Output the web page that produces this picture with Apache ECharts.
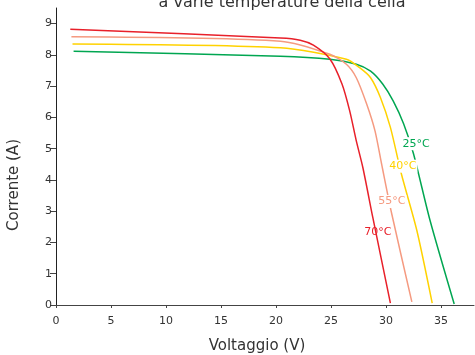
<!DOCTYPE html>
<html>
<head>
<meta charset="utf-8">
<script src="https://cdn.jsdelivr.net/npm/echarts@6/dist/echarts.min.js"></script>
<style>
  html, body { margin: 0; padding: 0; background: #fff; }
  #chart { width: 475px; height: 355px; }
</style>
</head>
<body>
<div id="chart"></div>
<script>
// tick labels
const xTicks = [0, 5, 10, 15, 20, 25, 30, 35]
const yTicks = [0, 1, 2, 3, 4, 5, 6, 7, 8, 9]

// curve I-V (tensione V, corrente A)
const v25 = [1.6, 20.4, 24.9, 27.3, 28.6, 29.7, 30.65, 31.6, 32.5, 34.0, 36.2]
const i25 = [8.12, 7.96, 7.86, 7.70, 7.48, 7.07, 6.53, 5.80, 4.84, 2.71, 0.03]

const v40 = [1.5, 20.4, 26.4, 27.6, 28.6, 29.5, 30.4, 31.4, 32.8, 34.2]
const i40 = [8.35, 8.23, 7.86, 7.59, 7.27, 6.63, 5.68, 4.19, 2.39, 0.06]

const v55 = [1.4, 20.4, 24.9, 26.4, 27.3, 28.25, 29.0, 29.6, 30.5, 32.35]
const i55 = [8.58, 8.44, 8.02, 7.70, 7.27, 6.42, 5.57, 4.51, 2.95, 0.1]

const v70 = [1.3, 20.4, 22.2, 23.4, 24.9, 26.0, 26.7, 27.3, 27.9, 28.8, 30.4]
const i70 = [8.82, 8.54, 8.47, 8.31, 7.87, 7.07, 6.21, 5.25, 4.39, 2.80, 0.06]

// posizione delle etichette di temperatura (V, A)
const tempLabels = ['25°C', '40°C', '55°C', '70°C']
const labelPos = [[32.74, 5.16], [31.53, 4.44], [30.53, 3.31], [29.25, 2.33]]

const colors = ['#00a651', '#ffd200', '#f59a80', '#e8202a']

const zip = (xs, ys) => xs.map((x, k) => [x, ys[k]])
const curves = [zip(v25, i25), zip(v40, i40), zip(v55, i55), zip(v70, i70)]

const font = 'DejaVu Sans, Verdana, sans-serif'

const chart = echarts.init(document.getElementById('chart'))

chart.setOption({
  animation: false,
  title: {
    text: 'a varie temperature della cella',
    left: 277,
    textAlign: 'center',
    top: -10,
    textStyle: { fontFamily: font, fontSize: 16, fontWeight: 'normal', color: '#333' }
  },
  grid: { left: 56, right: 1, top: 8, bottom: 50, outerBoundsMode: 'none', containLabel: false },
  xAxis: {
    type: 'value',
    min: 0,
    max: 38,
    interval: 5,
    name: 'Voltaggio (V)',
    nameLocation: 'middle',
    nameGap: 34,
    nameTextStyle: { fontFamily: font, fontSize: 15, color: '#333', padding: [0, 16, 0, 0] },
    axisLine: { lineStyle: { color: '#444', width: 1 } },
    axisTick: { show: true, length: 3, customValues: xTicks, lineStyle: { color: '#444' } },
    axisLabel: { customValues: xTicks, margin: 11, fontFamily: font, fontSize: 11, color: '#333' },
    splitLine: { show: false }
  },
  yAxis: {
    type: 'value',
    min: 0,
    max: 9.5,
    interval: 1,
    name: 'Corrente (A)',
    nameLocation: 'middle',
    nameGap: 34,
    nameTextStyle: { fontFamily: font, fontSize: 15, color: '#333', padding: [0, 57, 0, 0] },
    axisLine: { show: true, lineStyle: { color: '#222', width: 1 } },
    axisTick: { show: true, length: 6, customValues: yTicks, lineStyle: { color: '#444' } },
    axisLabel: { customValues: yTicks, margin: 4, fontFamily: font, fontSize: 11, color: '#333' },
    splitLine: { show: false }
  },
  series: curves.map((data, k) => ({
    name: tempLabels[k],
    type: 'line',
    data: data,
    smooth: 0.25,
    showSymbol: false,
    lineStyle: { color: colors[k], width: 1.5 },
    z: 2 + k,
    markPoint: {
      symbol: 'circle',
      symbolSize: 1,
      itemStyle: { color: 'rgba(0,0,0,0)' },
      label: {
        show: true,
        position: 'inside',
        formatter: tempLabels[k],
        color: colors[k],
        fontFamily: font,
        fontSize: 11,
        backgroundColor: '#fff',
        padding: [1, 1]
      },
      data: [{ coord: labelPos[k] }]
    }
  }))
})
</script>
</body>
</html>
